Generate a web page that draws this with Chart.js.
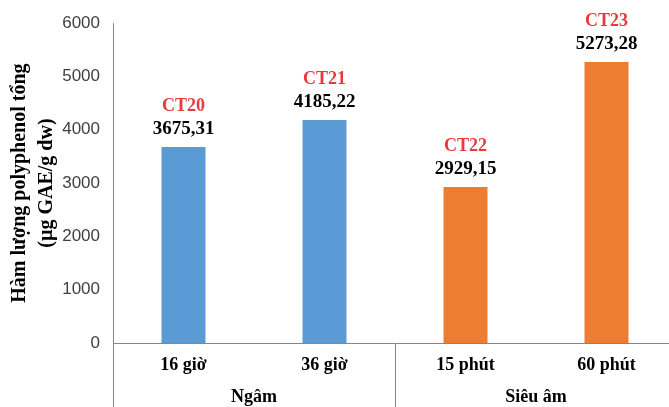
<!DOCTYPE html>
<html>
<head>
<meta charset="utf-8">
<script src="https://cdn.jsdelivr.net/npm/chart.js@4/dist/chart.umd.min.js"></script>
<style>
  html, body { margin: 0; padding: 0; background: #fff; overflow: hidden; width: 669px; height: 407px; }
  #wrap { width: 680px; height: 420px; }
</style>
</head>
<body>
<div id="wrap"><canvas id="c" width="680" height="420"></canvas></div>
<script>
// Total polyphenol content by extraction method
const categories = ['16 giờ', '36 giờ', '15 phút', '60 phút'];
const groups = ['Ngâm', 'Siêu âm'];
const treatments = ['CT20', 'CT21', 'CT22', 'CT23'];
const values = [3675.31, 4185.22, 2929.15, 5273.28];
const yTickLabels = ['0', '1000', '2000', '3000', '4000', '5000', '6000'];

const BLUE = '#5B9BD5';
const ORANGE = '#ED7D31';
const barColors = [BLUE, BLUE, ORANGE, ORANGE];
const AXIS = '#868686';
const SERIF = '"Liberation Serif", "Times New Roman", serif';

const fmt = v => v.toFixed(2).replace('.', ',');

// Treatment code and value written above each bar
const barLabels = {
  id: 'barLabels',
  afterDatasetsDraw(chart) {
    const ctx = chart.ctx;
    const meta = chart.getDatasetMeta(0);
    ctx.save();
    ctx.textAlign = 'center';
    ctx.textBaseline = 'middle';
    meta.data.forEach((bar, i) => {
      ctx.fillStyle = '#000';
      ctx.font = 'bold 19px ' + SERIF;
      ctx.fillText(fmt(values[i]), bar.x, bar.y - 18);
      ctx.fillStyle = '#E83A3A';
      ctx.font = 'bold 18px ' + SERIF;
      ctx.fillText(treatments[i], bar.x, bar.y - 41);
    });
    ctx.restore();
  }
};

new Chart(document.getElementById('c'), {
  type: 'bar',
  data: {
    labels: categories,
    datasets: [{
      data: values,
      backgroundColor: barColors,
      borderWidth: 0,
      barPercentage: 0.312,
      categoryPercentage: 1
    }]
  },
  options: {
    responsive: false,
    animation: false,
    events: [],
    layout: { padding: { top: 21, left: 0, right: 3, bottom: 0 } },
    plugins: { legend: { display: false }, tooltip: { enabled: false } },
    scales: {
      x: {
        position: 'bottom',
        offset: true,
        grid: {
          display: true,
          drawOnChartArea: false,
          drawTicks: true,
          tickLength: 80,
          offset: true,
          lineWidth: 1,
          color: ctx => (ctx.index === undefined || ctx.index % 2 === 0) ? AXIS : 'rgba(0,0,0,0)'
        },
        border: { display: true, color: AXIS, width: 1 },
        ticks: {
          color: '#000',
          font: { family: SERIF, size: 18, weight: 'bold' },
          padding: -68.8,
          maxRotation: 0,
          autoSkip: false
        },
        afterFit(scale) { scale.height = 35; }
      },
      x2: {
        type: 'category',
        labels: groups,
        position: 'bottom',
        offset: true,
        grid: { display: false, drawTicks: false },
        border: { display: false },
        ticks: {
          color: '#000',
          font: { family: SERIF, size: 18, weight: 'bold' },
          padding: 9,
          maxRotation: 0,
          autoSkip: false
        },
        afterFit(scale) { scale.height = 42; }
      },
      y: {
        min: 0,
        max: 6000,
        grid: { display: false, drawTicks: false },
        border: { display: true, color: AXIS, width: 1 },
        ticks: {
          stepSize: 1000,
          color: '#404040',
          font: { family: '"Liberation Sans", Arial, sans-serif', size: 17 },
          padding: 13,
          callback: (v) => yTickLabels[Math.round(v / 1000)]
        },
        title: {
          display: true,
          text: ['Hàm lượng polyphenol tổng', '(µg GAE/g dw)'],
          color: '#000',
          font: { family: SERIF, size: 20, weight: 'bold', lineHeight: 1.35 },
          padding: { top: 6.5, bottom: 0 }
        },
        afterFit(scale) { scale.width = 113; }
      }
    }
  },
  plugins: [barLabels]
});
</script>
</body>
</html>
